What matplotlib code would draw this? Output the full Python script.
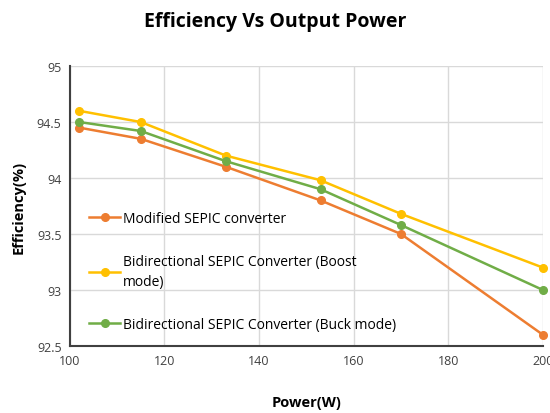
import matplotlib
matplotlib.use("Agg")
import matplotlib.pyplot as plt

# data
power = [102, 115, 133, 153, 170, 200]
modified_sepic = [94.45, 94.35, 94.10, 93.80, 93.50, 92.60]
bidir_boost = [94.60, 94.50, 94.20, 93.98, 93.68, 93.20]
bidir_buck = [94.50, 94.42, 94.15, 93.90, 93.58, 93.00]

labels = [
    "Modified SEPIC converter",
    "Bidirectional SEPIC Converter (Boost\nmode)",
    "Bidirectional SEPIC Converter (Buck mode)",
]
colors = ["#ED7D31", "#FFC000", "#70AD47"]

plt.rcParams['font.family'] = ['Open Sans', 'DejaVu Sans']

fig = plt.figure(figsize=(5.5, 4.14), dpi=100)
ax = fig.add_axes([0.127, 0.162, 0.86, 0.676])

for y, lab, c in zip([modified_sepic, bidir_boost, bidir_buck], labels, colors):
    ax.plot(power, y, color=c, lw=1.8, marker='o', ms=5.5, label=lab, clip_on=False, zorder=3)

ax.set_xlim(100, 200)
ax.set_ylim(92.5, 95)
ax.set_xticks([100, 120, 140, 160, 180, 200])
ax.set_yticks([92.5, 93, 93.5, 94, 94.5, 95])
ax.set_yticklabels(["92.5", "93", "93.5", "94", "94.5", "95"])
ax.grid(True, color='#d9d9d9', lw=1)
ax.set_axisbelow(True)
for s in ['top', 'right']:
    ax.spines[s].set_visible(False)
for s in ['left', 'bottom']:
    ax.spines[s].set_color('#404040')
    ax.spines[s].set_linewidth(1.5)
ax.tick_params(length=0, labelsize=9, colors='#404040', pad=6)

ax.set_xlabel("Power(W)", fontsize=10.5, fontweight='bold', labelpad=20)
ax.set_ylabel("Efficiency(%)", fontsize=10.5, fontweight='bold', labelpad=8)
fig.suptitle("Efficiency Vs Output Power", fontsize=14, fontweight='bold', y=0.97)

leg = ax.legend(loc='lower left', bbox_to_anchor=(0.015, 0.005), frameon=False,
                fontsize=10, handlelength=2.2, handletextpad=0.2, labelspacing=2.0)
for t in leg.get_texts():
    t.set_linespacing(1.5)

fig.savefig("out.png", dpi=100)
